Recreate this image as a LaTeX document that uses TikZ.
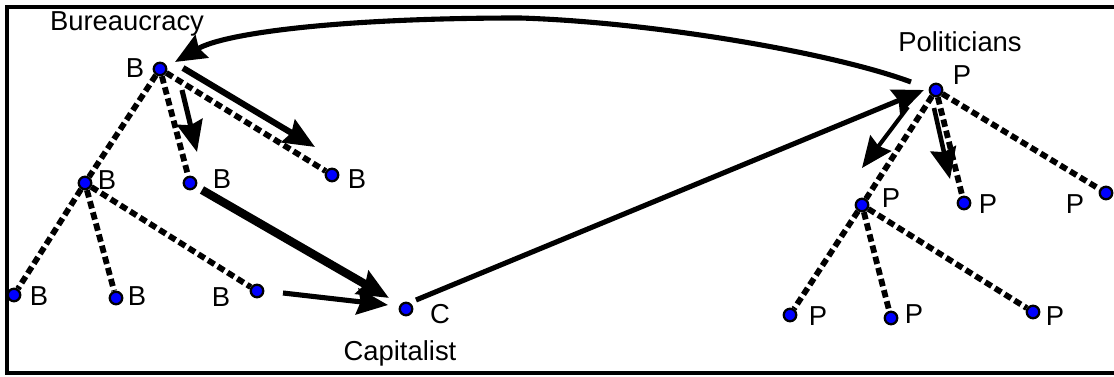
\documentclass[tikz,border=0pt]{standalone}
\usepackage{fontspec}
\setmainfont{Liberation Sans}
\usetikzlibrary{arrows.meta}

\begin{document}
\begin{tikzpicture}[x=0.02cm, y=-0.02cm,
        dot/.style={circle, fill=blue, draw=black, line width=1.3pt, minimum size=.25cm, inner sep=0pt},
        lbl/.style={font=\fontsize{15.6}{18}\selectfont, inner sep=0pt},
        tie/.style={line width=3.3pt, dash pattern=on .15cm off .08cm},
        push/.style={line width=2.8pt, -{Stealth[length=.62cm, width=.52cm, inset=.07cm]}}]

      \clip (0,0) rectangle (1114,377);
      \draw[line width=2pt] (1130,7) -- (7,7) -- (7,373) -- (1130,373);

      % bureaucracy tree
      \node[dot] (b0) at (160,69) {};
      \node[dot] (b1) at (85,183) {};
      \node[dot] (b2) at (190,183) {};
      \node[dot] (b3) at (332,175) {};
      \node[dot] (b4) at (14,295) {};
      \node[dot] (b5) at (116,298) {};
      \node[dot] (b6) at (257,291) {};
      \foreach \a/\b in {b0/b1, b0/b2, b0/b3, b1/b4, b1/b5, b1/b6}
        \draw[tie] (\a) -- (\b);

      \node[lbl] at (127,24) {Bureaucracy};
      \node[lbl] at (135,68) {B};
      \node[lbl] at (107,180) {B};
      \node[lbl] at (222,179) {B};
      \node[lbl] at (357,179) {B};
      \node[lbl] at (39,296) {B};
      \node[lbl] at (137,296) {B};
      \node[lbl] at (221,297) {B};

      % capitalist
      \node[dot] (c) at (406,309) {};
      \node[lbl] at (440,314) {C};
      \node[lbl] at (400,353) {Capitalist};

      % politicians tree
      \node[dot] (p0) at (936,90) {};
      \node[dot] (p1) at (862,205) {};
      \node[dot] (p2) at (964,203) {};
      \node[dot] (p3) at (1106,193) {};
      \node[dot] (p4) at (790,315) {};
      \node[dot] (p5) at (891,318) {};
      \node[dot] (p6) at (1033,312) {};
      \foreach \a/\b in {p0/p1, p0/p2, p0/p3, p1/p4, p1/p5, p1/p6}
        \draw[tie] (\a) -- (\b);

      \node[lbl] at (960,42) {Politicians};
      \node[lbl] at (962,75) {P};
      \node[lbl] at (891,198) {P};
      \node[lbl] at (988,204) {P};
      \node[lbl] at (1075,204) {P};
      \node[lbl] at (818,316) {P};
      \node[lbl] at (914,314) {P};
      \node[lbl] at (1055,316) {P};

      % flows
      \draw[push, line width=3.5pt] ([shift={(23,-1)}]b0.center) -- ([shift={(-17,-28)}]b3.center);
      \draw[push, line width=2.9pt] ([shift={(22,21)}]b0.center) -- ([shift={(7,-31)}]b2.center);
      \draw[push, line width=4.8pt] ([shift={(12,7)}]b2.center) -- ([shift={(-17,-11)}]c.center);
      \draw[push, line width=2.9pt] ([shift={(26,2)}]b6.center) -- ([shift={(-18,-4)}]c.center);
      \draw[push, line width=2.9pt] ([shift={(10,-9)}]c.center) -- ([shift={(-12,0)}]p0.center);
      \draw[push, line width=2.3pt] ([shift={(-28,17)}]p0.center) -- ([shift={(0,-37)}]p1.center);
      \draw[push, line width=2.6pt] ([shift={(-2,18)}]p0.center) -- ([shift={(-14,-24)}]p2.center);
      \draw[push, line width=2.9pt] ([shift={(-25,-8)}]p0.center)
        .. controls (830,52) and (650,22) .. (520,18)
        .. controls (340,18) and (225,33) .. ([shift={(15,-7)}]b0.center);
\end{tikzpicture}
\end{document}
